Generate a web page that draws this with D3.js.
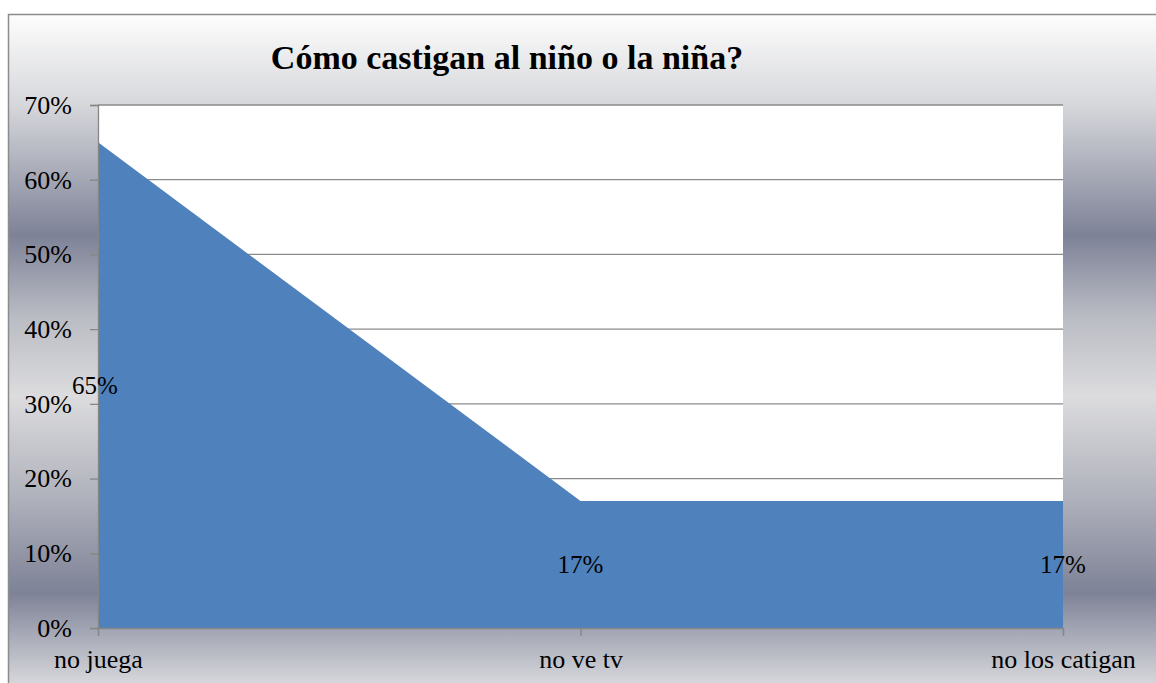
<!DOCTYPE html>
<html lang="es">
<head>
<meta charset="UTF-8">
<title>Cómo castigan al niño o la niña?</title>
<style>
  body { margin: 0; background: #fff; }
</style>
</head>
<body>
<script src="https://cdn.jsdelivr.net/npm/d3@7"></script>
<script>
// datos
var categorias = ["no juega", "no ve tv", "no los catigan"];
var valores = [0.65, 0.17, 0.17];
var etiquetas = ["65%", "17%", "17%"];
var ticksY = [0, 0.1, 0.2, 0.3, 0.4, 0.5, 0.6, 0.7];

var width = 1156, height = 683;
var plot = { left: 98, right: 1063, top: 105, bottom: 628 };
var fuente = "'Liberation Serif', 'DejaVu Serif', serif";

var svg = d3.select("body").append("svg")
  .attr("width", width)
  .attr("height", height)
  .attr("font-family", fuente);

// fondo degradado
var defs = svg.append("defs");
var grad = defs.append("linearGradient")
  .attr("id", "fondo")
  .attr("gradientUnits", "userSpaceOnUse")
  .attr("x1", 0).attr("y1", 15).attr("x2", 0).attr("y2", 683);
[[0, "#fdfdfd"], [0.135, "#d6d7db"], [0.33, "#7e8297"], [0.45, "#b9bbc3"], [0.57, "#dcdcde"],
 [0.72, "#b0b2bc"], [0.865, "#7e8297"], [1, "#d6d7db"]].forEach(function(s) {
  grad.append("stop").attr("offset", s[0]).attr("stop-color", s[1]);
});

svg.append("rect")
  .attr("x", 8.5).attr("y", 14.5)
  .attr("width", width).attr("height", height)
  .attr("fill", "url(#fondo)")
  .attr("stroke", "#8c8c8c")
  .attr("stroke-width", 1.5);

// área de trazado
svg.append("rect")
  .attr("x", plot.left).attr("y", plot.top)
  .attr("width", plot.right - plot.left).attr("height", plot.bottom - plot.top)
  .attr("fill", "#ffffff");

var x = d3.scalePoint().domain(categorias).range([plot.left, plot.right]);
var y = d3.scaleLinear().domain([0, 0.7]).range([plot.bottom, plot.top]);

// líneas de cuadrícula
svg.append("g")
  .selectAll("line")
  .data(ticksY.slice(1))
  .enter().append("line")
  .attr("x1", plot.left).attr("x2", plot.right)
  .attr("y1", function(d) { return y(d); })
  .attr("y2", function(d) { return y(d); })
  .attr("stroke", "#8a8a8a")
  .attr("stroke-width", 1.3);

// área
var area = d3.area()
  .x(function(d, i) { return x(categorias[i]); })
  .y0(y(0))
  .y1(function(d) { return y(d); });

svg.append("path")
  .datum(valores)
  .attr("d", area)
  .attr("fill", "#4f81bd");

// eje Y
var ejeY = svg.append("g")
  .attr("transform", "translate(" + plot.left + ",0)")
  .call(d3.axisLeft(y).tickValues(ticksY).tickFormat(d3.format(".0%")).tickSize(8).tickPadding(18));

// eje X
var ejeX = svg.append("g")
  .attr("transform", "translate(0," + plot.bottom + ")")
  .call(d3.axisBottom(x).tickSize(8).tickPadding(14));

[ejeY, ejeX].forEach(function(g) {
  g.attr("font-family", fuente).attr("font-size", 26);
  g.selectAll("text").attr("fill", "#000");
});

svg.selectAll(".domain, .tick line").attr("stroke", "#868686").attr("stroke-width", 1.3);

// etiquetas de datos
svg.append("g")
  .selectAll("text")
  .data(valores)
  .enter().append("text")
  .attr("x", function(d, i) { return x(categorias[i]) + (i === 0 ? -3 : 0); })
  .attr("y", function(d) { return y(d / 2); })
  .attr("dy", "0.35em")
  .attr("text-anchor", "middle")
  .attr("font-size", 25)
  .text(function(d, i) { return etiquetas[i]; });

// título
svg.append("text")
  .attr("x", 507).attr("y", 69)
  .attr("text-anchor", "middle")
  .attr("font-size", 34)
  .attr("font-weight", "bold")
  .text("Cómo castigan al niño o la niña?");
</script>
</body>
</html>
